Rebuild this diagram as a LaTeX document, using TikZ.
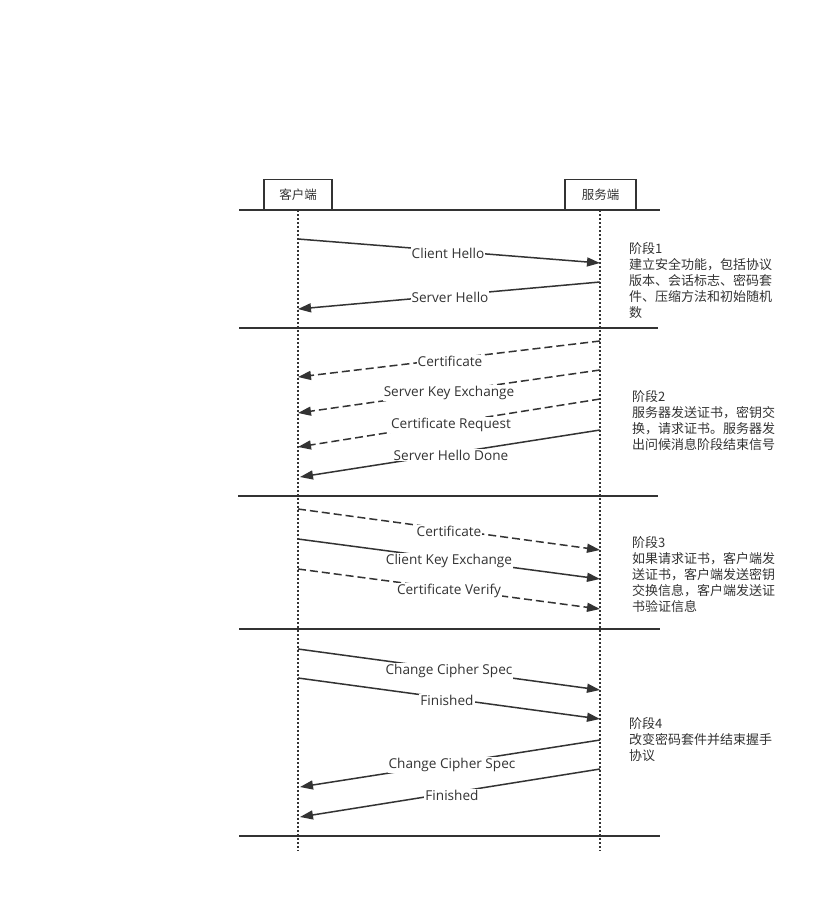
\documentclass[tikz,border=0pt]{standalone}
\usepackage{fontspec}
\setmainfont{Open Sans}
\newfontfamily\cjk{Noto Sans CJK SC}
\usetikzlibrary{arrows.meta}
\definecolor{ink}{HTML}{333333}
\begin{document}
\begin{tikzpicture}[x=1pt,y=-1pt,
  actor/.style={draw=ink,line width=1.5pt,minimum width=68pt,minimum height=30pt,inner sep=0pt,font=\cjk\fontsize{12.5}{15}\selectfont,text=ink},
  sep/.style={draw=ink,line width=1.8pt},
  life/.style={draw=ink,line width=1.5pt,dash pattern=on 1.5pt off 2.5pt},
  msg/.style={draw=ink,line width=1.5pt,-{Triangle[length=13pt,width=9pt]}},
  dmsg/.style={msg,dash pattern=on 8pt off 4pt},
  lbl/.style={fill=white,inner sep=1pt,font=\fontsize{13.6}{16}\selectfont,text=ink},
  note/.style={anchor=north west,inner sep=0pt,align=left,font=\cjk\fontsize{13}{16}\selectfont,text=ink}]
\useasboundingbox[fill=white] (0,0) rectangle (840,916);
% actors
\node[actor] (cl) at (298,194.5) {客户端};
\node[actor,minimum width=71pt] (sv) at (600.5,194.5) {服务端};
% lifelines
\coordinate (clt) at (298,210); \coordinate (clb) at (298,851);
\coordinate (svt) at (600,210); \coordinate (svb) at (600,851);
\draw[life] (clt) -- (clb);
\draw[life] (svt) -- (svb);
% separators
\coordinate (s1a) at (239,210); \coordinate (s1b) at (660,210);
\coordinate (s2a) at (239,328); \coordinate (s2b) at (658,328);
\coordinate (s3a) at (238,496); \coordinate (s3b) at (658,496);
\coordinate (s4a) at (239,629); \coordinate (s4b) at (660,629);
\coordinate (s5a) at (239,836); \coordinate (s5b) at (660,836);
\draw[sep] (s1a) -- (s1b);
\draw[sep] (s2a) -- (s2b);
\draw[sep] (s3a) -- (s3b);
\draw[sep] (s4a) -- (s4b);
\draw[sep] (s5a) -- (s5b);
% message endpoints
\coordinate (a1) at (298,239); \coordinate (b1) at (600,263);
\coordinate (a2) at (600,282); \coordinate (b2) at (298,309);
\coordinate (a3) at (600,341); \coordinate (b3) at (298,377);
\coordinate (a4) at (600,370); \coordinate (b4) at (298,413);
\coordinate (a5) at (600,399); \coordinate (b5) at (298,447);
\coordinate (a6) at (600,430); \coordinate (b6) at (300,477);
\coordinate (a7) at (298,509); \coordinate (b7) at (600,550);
\coordinate (a8) at (298,539); \coordinate (b8) at (600,579);
\coordinate (a9) at (298,569); \coordinate (b9) at (600,609);
\coordinate (a10) at (298,649); \coordinate (b10) at (600,690);
\coordinate (a11) at (298,678); \coordinate (b11) at (600,719);
\coordinate (a12) at (600,740); \coordinate (b12) at (300,787);
\coordinate (a13) at (600,769); \coordinate (b13) at (300,817);
\draw[msg] (a1) -- (b1);
\draw[msg] (a2) -- (b2);
\draw[dmsg] (a3) -- (b3);
\draw[dmsg] (a4) -- (b4);
\draw[dmsg] (a5) -- (b5);
\draw[msg] (a6) -- (b6);
\draw[dmsg] (a7) -- (b7);
\draw[msg] (a8) -- (b8);
\draw[dmsg] (a9) -- (b9);
\draw[msg] (a10) -- (b10);
\draw[msg] (a11) -- (b11);
\draw[msg] (a12) -- (b12);
\draw[msg] (a13) -- (b13);
% labels
\node[lbl] (l1) at (448,253) {Client Hello};
\node[lbl] (l2) at (450,297) {Server Hello};
\node[lbl] (l3) at (450,361) {Certificate};
\node[lbl] (l4) at (449,393) {Server Key Exchange};
\node[lbl] (l5) at (451,425) {Certificate Request};
\node[lbl] (l6) at (451,455) {Server Hello Done};
\node[lbl] (l7) at (449,531) {Certificate};
\node[lbl] (l8) at (449,561) {Client Key Exchange};
\node[lbl] (l9) at (449,591) {Certificate Verify};
\node[lbl] (l10) at (449,671) {Change Cipher Spec};
\node[lbl] (l11) at (447,700) {Finished};
\node[lbl] (l12) at (452,765) {Change Cipher Spec};
\node[lbl] (l13) at (452,795) {Finished};
% notes
\node[note] (n1) at (629,242) {阶段1\\建立安全功能，包括协议\\版本、会话标志、密码套\\件、压缩方法和初始随机\\数};
\node[note] (n2) at (632,390) {阶段2\\服务器发送证书，密钥交\\换，请求证书。服务器发\\出问候消息阶段结束信号};
\node[note] (n3) at (632,536) {阶段3\\如果请求证书，客户端发\\送证书，客户端发送密钥\\交换信息，客户端发送证\\书验证信息};
\node[note] (n4) at (629,717) {阶段4\\改变密码套件并结束握手\\协议};
\end{tikzpicture}
\end{document}
